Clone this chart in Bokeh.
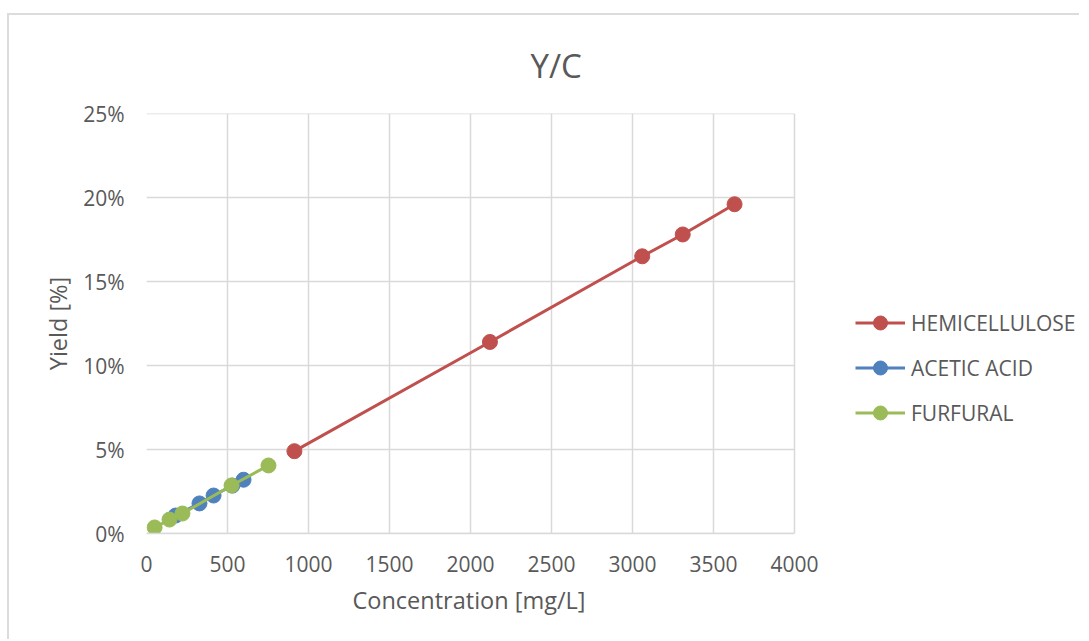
from bokeh.plotting import figure
from bokeh.models import Legend, LegendItem, NumeralTickFormatter, FixedTicker, Range1d, Title
from bokeh.embed import file_html
from bokeh.resources import INLINE

hemi_x = [913, 2120, 3060, 3310, 3630]
hemi_y = [0.049, 0.114, 0.165, 0.178, 0.196]
acetic_x = [180, 327, 414, 530, 599]
acetic_y = [0.0107, 0.0179, 0.0226, 0.0285, 0.0320]
furf_x = [50, 142, 222, 525, 753]
furf_y = [0.0036, 0.0083, 0.0119, 0.0286, 0.0405]

x_ticks = [0, 500, 1000, 1500, 2000, 2500, 3000, 3500, 4000]
y_ticks = [0, 0.05, 0.10, 0.15, 0.20, 0.25]

FONT = "Open Sans"
GRAY = "#595959"
GRID = "#d9d9d9"

W, H = 1072, 626
LEFT, TOP, BOTTOM = 137, 98, 108
PLOT_W = 648  # pixel width of the 0..4000 data area
frame_w = W - LEFT
x_end = x_ticks[-1] * frame_w / PLOT_W

p = figure(width=W, height=H, output_backend="svg", toolbar_location=None,
           x_range=Range1d(0, x_end), y_range=Range1d(0, 0.25),
           min_border_left=LEFT, min_border_right=0, min_border_top=TOP, min_border_bottom=BOTTOM)
p.styles = {"border-top": "2px solid #dcdcdc", "border-left": "2px solid #dcdcdc",
            "margin-top": "13px", "margin-left": "7px"}
p.title = Title(text="Y/C", align="left", offset=384, text_font=FONT, text_font_size="33px",
                text_color=GRAY, text_font_style="normal", standoff=51)
p.outline_line_color = None

for ax in (p.xaxis, p.yaxis):
    ax.major_label_text_font = FONT
    ax.major_label_text_font_size = "21px"
    ax.major_label_text_color = GRAY
    ax.axis_label_text_font = FONT
    ax.axis_label_text_font_size = "23.5px"
    ax.axis_label_text_color = GRAY
    ax.axis_label_text_font_style = "normal"
    ax.major_tick_line_color = None
    ax.minor_tick_line_color = None

p.xaxis.axis_line_color = GRID
p.xaxis.axis_line_width = 1.5
p.xaxis.bounds = (x_ticks[0], x_ticks[-1])
p.yaxis.axis_line_color = None
p.xaxis.ticker = FixedTicker(ticks=x_ticks)
p.yaxis.ticker = FixedTicker(ticks=y_ticks)
p.yaxis.formatter = NumeralTickFormatter(format="0%")
p.yaxis.axis_label = "Yield [%]"
p.xaxis.major_label_standoff = 16
p.yaxis.major_label_standoff = 16
p.yaxis.axis_label_standoff = 6
p.xgrid.grid_line_color = GRID
p.xgrid.grid_line_width = 1.5
p.ygrid.grid_line_color = None

# x axis title centred under the 0..4000 data area
p.add_layout(Title(text="Concentration [mg/L]", align="left", offset=206, text_font=FONT,
                   text_font_size="23.5px", text_color=GRAY, text_font_style="normal",
                   standoff=15), "below")

# horizontal gridlines limited to the 0..4000 data area
p.segment(x0=[x_ticks[0]] * len(y_ticks), x1=[x_ticks[-1]] * len(y_ticks), y0=y_ticks, y1=y_ticks,
          line_color=GRID, line_width=1.5)

series = [("HEMICELLULOSE", hemi_x, hemi_y, "#c0504d"),
          ("ACETIC ACID", acetic_x, acetic_y, "#4f81bd"),
          ("FURFURAL", furf_x, furf_y, "#9bbb59")]
items = []
for name, xs, ys, c in series:
    l = p.line(xs, ys, line_color=c, line_width=3)
    s = p.scatter(xs, ys, size=15, fill_color=c, line_color=c)
    items.append(LegendItem(label=name, renderers=[l, s]))

legend = Legend(items=items, location=(709, 103), glyph_width=50, glyph_height=35,
                label_text_font=FONT, label_text_font_size="21px", label_text_color=GRAY,
                spacing=10, border_line_color=None, background_fill_alpha=0, padding=0,
                margin=0, label_standoff=6)
p.add_layout(legend, "center")

open("out.html", "w").write(file_html(p, INLINE))
